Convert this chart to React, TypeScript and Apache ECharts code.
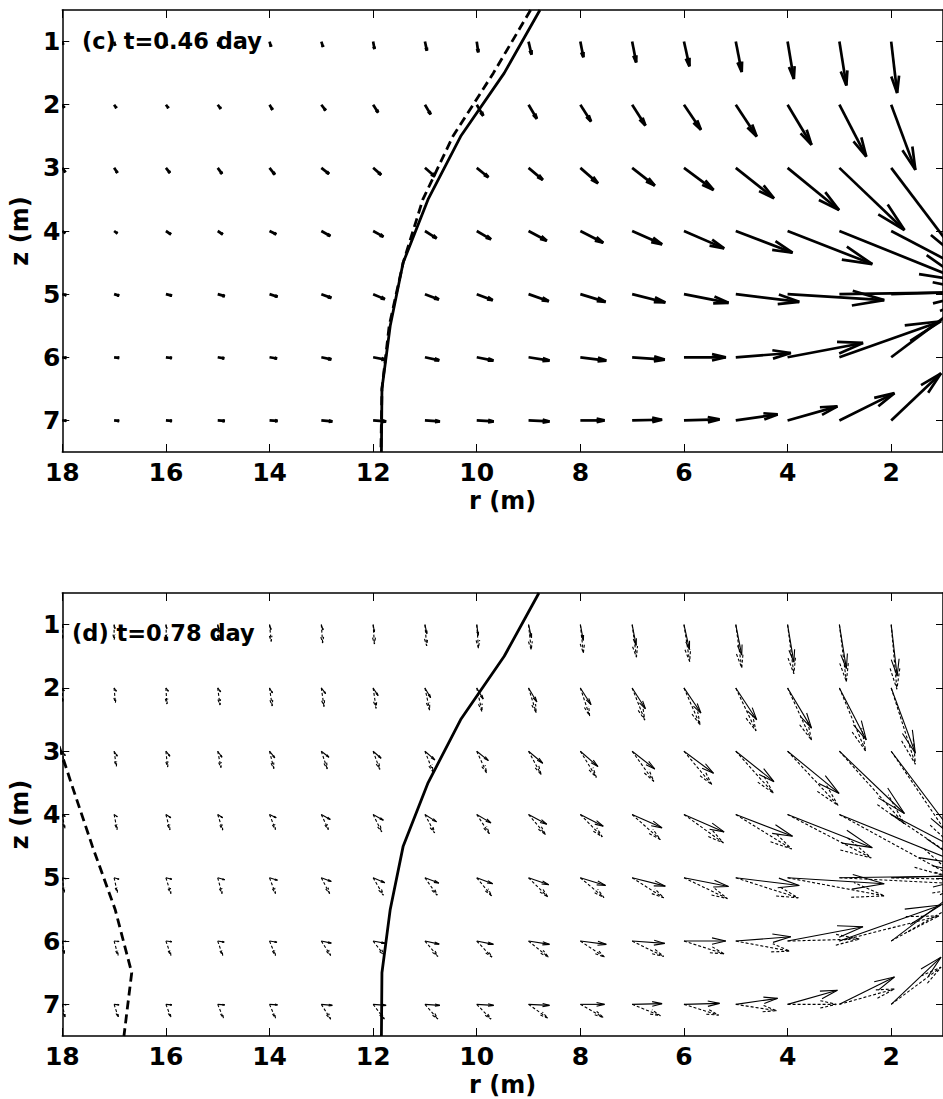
import React, { useEffect, useRef } from "react";
import * as echarts from "echarts";

// grid of vector tails
const R_COLS = [18, 17, 16, 15, 14, 13, 12, 11, 10, 9, 8, 7, 6, 5, 4, 3, 2];
const Z_ROWS = [1, 2, 3, 4, 5, 6, 7];
const X_TICKS = [2, 4, 6, 8, 10, 12, 14, 16, 18];
const Y_TICKS = [1, 2, 3, 4, 5, 6, 7];

// interface curves (r at given z)
const CURVE_Z = [0.5, 1.5, 2.5, 3.5, 4.5, 5.5, 6.5, 7.5];
const C_SOLID_R = [8.78, 9.47, 10.31, 10.94, 11.42, 11.67, 11.83, 11.84];
const C_DASH_R = [8.96, 9.68, 10.46, 11.04, 11.42, 11.69, 11.83, 11.85];
const D_SOLID_R = [8.8, 9.47, 10.31, 10.94, 11.42, 11.67, 11.83, 11.84];
const D_DASH_Z = [2.5, 3.5, 4.5, 5.5, 6.5, 7.5];
const D_DASH_R = [18.23, 17.83, 17.42, 16.98, 16.66, 16.81];

// panel (c): radial (toward r=0) and vertical (downward) displacement, rows z=1..7, cols r=18..2
const C_UR = [
  [0.015, 0.019, 0.019, 0.023, 0.029, 0.033, 0.025, 0.038, 0.029, 0.058, 0.058, 0.077, 0.106, 0.115, 0.121, 0.135, 0.115],
  [0.038, 0.044, 0.048, 0.058, 0.058, 0.083, 0.096, 0.11, 0.125, 0.16, 0.206, 0.256, 0.327, 0.404, 0.462, 0.519, 0.467],
  [0.058, 0.063, 0.077, 0.083, 0.102, 0.148, 0.154, 0.192, 0.225, 0.275, 0.34, 0.437, 0.571, 0.737, 0.994, 1.256, 1.346],
  [0.058, 0.063, 0.096, 0.096, 0.129, 0.173, 0.198, 0.225, 0.275, 0.352, 0.442, 0.577, 0.775, 1.096, 1.635, 2.404, 2.212],
  [0.077, 0.096, 0.115, 0.135, 0.154, 0.192, 0.225, 0.269, 0.308, 0.39, 0.487, 0.64, 0.86, 1.225, 1.865, 2.692, 3.077],
  [0.077, 0.096, 0.115, 0.125, 0.144, 0.192, 0.237, 0.275, 0.321, 0.404, 0.5, 0.629, 0.808, 1.063, 1.456, 1.962, 1.538],
  [0.077, 0.096, 0.115, 0.135, 0.154, 0.212, 0.25, 0.288, 0.327, 0.404, 0.467, 0.577, 0.687, 0.808, 0.962, 1.063, 0.962],
];
const C_WZ = [
  [0.048, 0.063, 0.063, 0.071, 0.079, 0.084, 0.116, 0.143, 0.17, 0.206, 0.249, 0.329, 0.392, 0.481, 0.592, 0.694, 0.814],
  [0.048, 0.052, 0.052, 0.063, 0.079, 0.09, 0.122, 0.154, 0.175, 0.222, 0.265, 0.329, 0.397, 0.503, 0.635, 0.821, 1.032],
  [0.071, 0.079, 0.079, 0.095, 0.106, 0.095, 0.111, 0.138, 0.148, 0.19, 0.243, 0.281, 0.349, 0.481, 0.667, 0.984, 1.46],
  [0.032, 0.037, 0.052, 0.052, 0.052, 0.079, 0.09, 0.116, 0.132, 0.154, 0.186, 0.211, 0.275, 0.344, 0.524, 0.794, 0.952],
  [0.016, 0.024, 0.024, 0.032, 0.04, 0.059, 0.079, 0.084, 0.095, 0.111, 0.122, 0.132, 0.138, 0.122, 0.095, -0.032, -0.079],
  [0.008, 0.008, 0.011, 0.016, 0.019, 0.032, 0.037, 0.048, 0.052, 0.052, 0.052, 0.037, 0, -0.068, -0.227, -0.571, -0.952],
  [0.005, 0.008, 0.008, 0.008, 0.008, 0.016, 0.016, 0.016, 0.016, 0.016, 0, -0.011, -0.016, -0.095, -0.222, -0.433, -0.746],
];

// panel (d): solid vectors (same field as (c)) and dashed vectors
const D_SOLID_UR = C_UR;
const D_SOLID_WZ = C_WZ;
const D_DASH_UR = [
  [0, 0, 0.013, 0.019, 0.033, 0.025, 0.025, 0.033, 0.033, 0.052, 0.058, 0.083, 0.11, 0.115, 0.121, 0.135, 0.11],
  [0.006, 0.025, 0.019, 0.044, 0.052, 0.052, 0.058, 0.09, 0.102, 0.148, 0.179, 0.244, 0.313, 0.39, 0.462, 0.506, 0.467],
  [0.038, 0.044, 0.033, 0.063, 0.083, 0.115, 0.129, 0.16, 0.192, 0.244, 0.308, 0.417, 0.538, 0.725, 0.975, 1.25, 1.346],
  [0.048, 0.058, 0.077, 0.096, 0.115, 0.135, 0.167, 0.187, 0.244, 0.327, 0.423, 0.544, 0.763, 1.077, 1.615, 2.308, 2.154],
  [0.038, 0.063, 0.096, 0.083, 0.115, 0.16, 0.198, 0.237, 0.288, 0.371, 0.456, 0.61, 0.84, 1.206, 1.871, 2.692, 3.077],
  [0.038, 0.077, 0.096, 0.096, 0.115, 0.179, 0.217, 0.25, 0.294, 0.385, 0.467, 0.61, 0.775, 1.044, 1.385, 1.923, 1.538],
  [0.052, 0.083, 0.096, 0.11, 0.115, 0.179, 0.217, 0.25, 0.275, 0.371, 0.442, 0.544, 0.667, 0.788, 0.942, 1.063, 0.962],
];
const D_DASH_WZ = [
  [0.222, 0.238, 0.238, 0.246, 0.265, 0.29, 0.306, 0.333, 0.37, 0.397, 0.449, 0.513, 0.583, 0.683, 0.778, 0.9, 1.021],
  [0.222, 0.233, 0.254, 0.27, 0.286, 0.297, 0.322, 0.349, 0.376, 0.392, 0.444, 0.508, 0.587, 0.678, 0.825, 0.995, 1.206],
  [0.222, 0.238, 0.249, 0.259, 0.275, 0.281, 0.29, 0.333, 0.344, 0.37, 0.413, 0.476, 0.529, 0.662, 0.857, 1.143, 1.619],
  [0.222, 0.238, 0.243, 0.246, 0.238, 0.238, 0.275, 0.29, 0.302, 0.317, 0.354, 0.397, 0.449, 0.544, 0.687, 1.032, 1.19],
  [0.233, 0.233, 0.249, 0.249, 0.249, 0.249, 0.275, 0.275, 0.286, 0.302, 0.313, 0.317, 0.329, 0.317, 0.286, 0.111, 0.063],
  [0.202, 0.227, 0.227, 0.227, 0.227, 0.227, 0.227, 0.243, 0.254, 0.254, 0.254, 0.243, 0.202, 0.159, -0.032, -0.397, -0.714],
  [0.206, 0.206, 0.206, 0.217, 0.217, 0.233, 0.233, 0.233, 0.233, 0.217, 0.206, 0.179, 0.17, 0.1, 0, -0.243, -0.587],
];

const FONT = "DejaVu Sans";

function quiverData(U: number[][], W: number[][]) {
  const out: number[][] = [];
  Z_ROWS.forEach((z, i) => {
    R_COLS.forEach((r, j) => {
      out.push([r, z, U[i][j], W[i][j]]);
    });
  });
  return out;
}

function curveData(rs: number[], zs: number[]) {
  return rs.map((r, i) => [r, zs[i]]);
}

function arrowRenderer(lineWidth: number, dash: number[] | null) {
  return (params: any, api: any) => {
    const r = api.value(0);
    const z = api.value(1);
    const u = api.value(2);
    const w = api.value(3);
    const p0 = api.coord([r, z]);
    const p1 = api.coord([r - u, z + w]);
    const dx = p1[0] - p0[0];
    const dy = p1[1] - p0[1];
    const a = 0.33;
    const b = 0.23;
    const w1 = [p1[0] - a * (dx + b * dy), p1[1] - a * (dy - b * dx)];
    const w2 = [p1[0] - a * (dx - b * dy), p1[1] - a * (dy + b * dx)];
    const style: any = { stroke: "#000", lineWidth, fill: null };
    if (dash) style.lineDash = dash;
    return {
      type: "group",
      children: [
        { type: "polyline", shape: { points: [p0, p1] }, style },
        { type: "polyline", shape: { points: [w1, p1, w2] }, style },
      ],
    };
  };
}

function bottomX(gridIndex: number) {
  return {
    type: "value",
    gridIndex,
    position: "bottom",
    inverse: true,
    min: 1,
    max: 18,
    name: "r (m)",
    nameLocation: "middle",
    nameGap: 37,
    nameTextStyle: { fontFamily: FONT, fontWeight: "bold", fontSize: 24, color: "#000" },
    axisLine: { show: true, onZero: false, lineStyle: { color: "#000", width: 1.5 } },
    axisTick: { show: true, inside: true, length: 8, customValues: X_TICKS, lineStyle: { color: "#000", width: 1 } },
    axisLabel: { show: true, customValues: X_TICKS, margin: 8, fontFamily: FONT, fontWeight: "bold", fontSize: 25, color: "#000" },
    splitLine: { show: false },
  };
}
function topX(gridIndex: number) {
  return {
    type: "value",
    gridIndex,
    position: "top",
    inverse: true,
    min: 1,
    max: 18,
    axisLine: { show: true, onZero: false, lineStyle: { color: "#000", width: 1.5 } },
    axisTick: { show: true, inside: true, length: 8, customValues: X_TICKS, lineStyle: { color: "#000", width: 1 } },
    axisLabel: { show: false },
    splitLine: { show: false },
  };
}
function leftY(gridIndex: number) {
  return {
    type: "value",
    gridIndex,
    position: "left",
    inverse: true,
    min: 0.5,
    max: 7.5,
    name: "z (m)",
    nameLocation: "middle",
    nameRotate: 90,
    nameGap: 29,
    nameTextStyle: { fontFamily: FONT, fontWeight: "bold", fontSize: 24, color: "#000" },
    axisLine: { show: true, onZero: false, lineStyle: { color: "#000", width: 1.5 } },
    axisTick: { show: true, inside: true, length: 7, customValues: Y_TICKS, lineStyle: { color: "#000", width: 1 } },
    axisLabel: { show: true, customValues: Y_TICKS, margin: 2, fontFamily: FONT, fontWeight: "bold", fontSize: 25, color: "#000" },
    splitLine: { show: false },
  };
}
function rightY(gridIndex: number) {
  return {
    type: "value",
    gridIndex,
    position: "right",
    inverse: true,
    min: 0.5,
    max: 7.5,
    axisLine: { show: true, onZero: false, lineStyle: { color: "#000", width: 1.5 } },
    axisTick: { show: true, inside: true, length: 7, customValues: Y_TICKS, lineStyle: { color: "#000", width: 1 } },
    axisLabel: { show: false },
    splitLine: { show: false },
  };
}

export default function App() {
  const ref = useRef<HTMLDivElement>(null);
  useEffect(() => {
    if (!ref.current) return;
    const chart = echarts.init(ref.current, null, { renderer: "svg" });
    const option: any = {
      animation: false,
      backgroundColor: "#fff",
      grid: [
        { left: 62, top: 10, width: 886, height: 442 },
        { left: 62, top: 593, width: 886, height: 443 },
      ],
      xAxis: [bottomX(0), topX(0), bottomX(1), topX(1)],
      yAxis: [leftY(0), rightY(0), leftY(1), rightY(1)],
      graphic: [
        {
          type: "text",
          x: 82,
          y: 41,
          z: 100,
          style: { text: "(c) t=0.46 day", fontFamily: FONT, fontWeight: "bold", fontSize: 22.5, fill: "#000", verticalAlign: "middle" },
        },
        {
          type: "text",
          x: 72,
          y: 633,
          z: 100,
          style: { text: "(d) t=0.78 day", fontFamily: FONT, fontWeight: "bold", fontSize: 22.5, fill: "#000", verticalAlign: "middle" },
        },
      ],
      series: [
        {
          type: "custom",
          xAxisIndex: 0,
          yAxisIndex: 0,
          clip: true,
          silent: true,
          encode: { x: 0, y: 1 },
          data: quiverData(C_UR, C_WZ),
          renderItem: arrowRenderer(2.7, null),
        },
        {
          type: "line",
          xAxisIndex: 0,
          yAxisIndex: 0,
          data: curveData(C_SOLID_R, CURVE_Z),
          showSymbol: false,
          symbol: "none",
          silent: true,
          lineStyle: { color: "#000", width: 2.8 },
        },
        {
          type: "line",
          xAxisIndex: 0,
          yAxisIndex: 0,
          data: curveData(C_DASH_R, CURVE_Z),
          showSymbol: false,
          symbol: "none",
          silent: true,
          lineStyle: { color: "#000", width: 2.8, type: [9, 5] },
        },
        {
          type: "custom",
          xAxisIndex: 2,
          yAxisIndex: 2,
          clip: true,
          silent: true,
          encode: { x: 0, y: 1 },
          data: quiverData(D_SOLID_UR, D_SOLID_WZ),
          renderItem: arrowRenderer(1.1, null),
        },
        {
          type: "custom",
          xAxisIndex: 2,
          yAxisIndex: 2,
          clip: true,
          silent: true,
          encode: { x: 0, y: 1 },
          data: quiverData(D_DASH_UR, D_DASH_WZ),
          renderItem: arrowRenderer(1.1, [3, 2]),
        },
        {
          type: "line",
          xAxisIndex: 2,
          yAxisIndex: 2,
          data: curveData(D_SOLID_R, CURVE_Z),
          showSymbol: false,
          symbol: "none",
          silent: true,
          lineStyle: { color: "#000", width: 2.8 },
        },
        {
          type: "line",
          xAxisIndex: 2,
          yAxisIndex: 2,
          data: curveData(D_DASH_R, D_DASH_Z),
          showSymbol: false,
          symbol: "none",
          silent: true,
          lineStyle: { color: "#000", width: 2.8, type: [9, 5] },
        },
      ],
    };
    chart.setOption(option);
    return () => {
      chart.dispose();
    };
  }, []);
  return (
    <div
      ref={ref}
      style={{ position: "absolute", left: 0, top: 0, width: 943, height: 1099, background: "#fff" }}
    />
  );
}
